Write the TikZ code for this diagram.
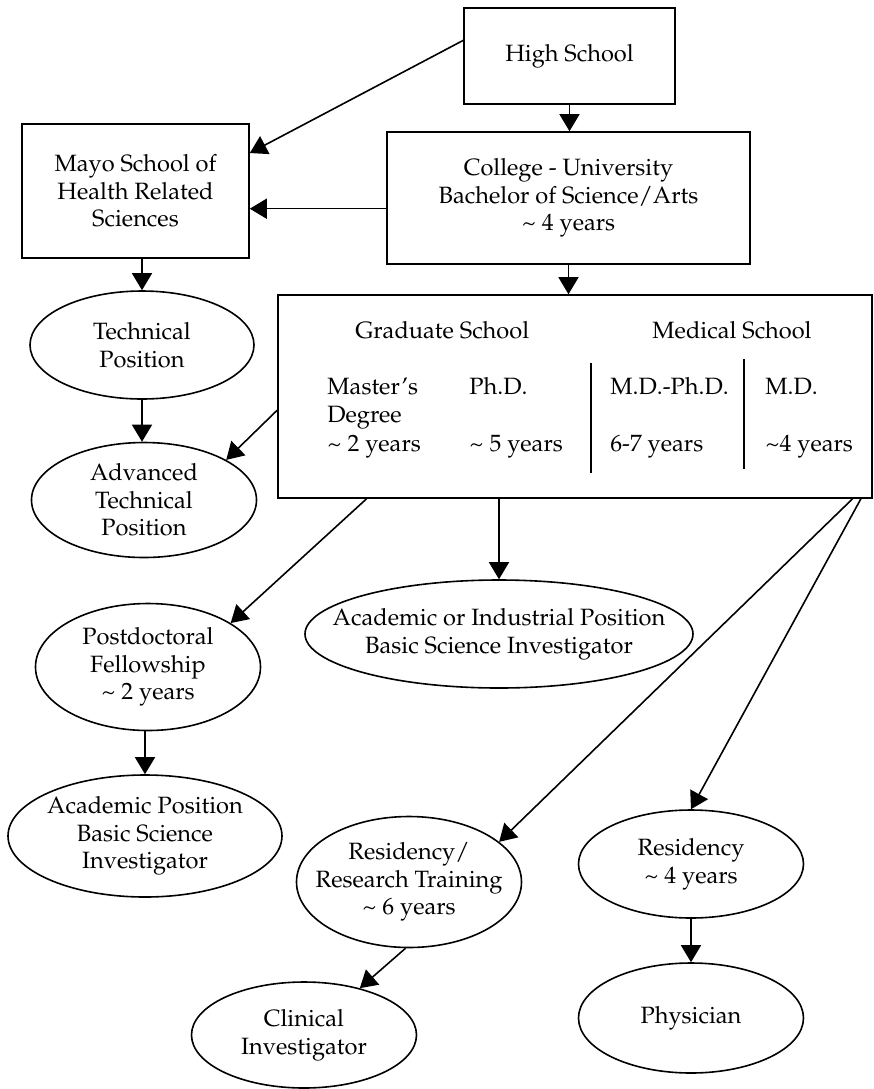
\documentclass[tikz,border=0pt]{standalone}
\usepackage[T1]{fontenc}
\usepackage{mathpazo}
\usetikzlibrary{shapes.geometric,arrows.meta,calc}
\begin{document}
\begin{tikzpicture}[x=0.5pt,y=-0.5pt]
\tikzset{
 box/.style={draw, line width=0.8pt, rectangle, inner sep=0pt},
 ell/.style={draw, line width=0.8pt, ellipse, inner sep=0pt},
 txt/.style={font=\fontsize{11.8}{13.8}\selectfont, align=center, inner sep=0pt},
 arr/.style={line width=0.8pt, -{Triangle[length=8.5pt,width=10pt]}},
 sep/.style={line width=0.8pt},
}
\useasboundingbox (0,0) rectangle (874,1089);
% boxes
\node[box, txt, minimum width=105.5pt, minimum height=48pt] (hs) at (569.5,56) {High School};
\node[box, txt, minimum width=113.5pt, minimum height=67pt] (mayo) at (135.5,191) {Mayo School of\\Health Related\\Sciences};
\node[box, txt, minimum width=181.5pt, minimum height=66pt] (coll) at (568.5,198) {College - University\\Bachelor of Science/Arts\\\textasciitilde{} 4 years};
\node[box, minimum width=297pt, minimum height=101.5pt] (big) at (575,396.5) {};
% big box contents
\node[txt, anchor=base west] (gs) at (355,338) {Graduate School};
\node[txt, anchor=base west] (ms) at (652,338) {Medical School};
\node[txt, anchor=base west] (mas1) at (327,394) {Master's};
\node[txt, anchor=base west] (mas2) at (327,422) {Degree};
\node[txt, anchor=base west] (mas3) at (327,451) {\textasciitilde{} 2 years};
\node[txt, anchor=base west] (phd1) at (469,394) {Ph.D.};
\node[txt, anchor=base west] (phd3) at (469,451) {\textasciitilde{} 5 years};
\node[txt, anchor=base west] (mdp1) at (610,394) {M.D.-Ph.D.};
\node[txt, anchor=base west] (mdp3) at (610,451) {6-7 years};
\node[txt, anchor=base west] (md1) at (765,394) {M.D.};
\node[txt, anchor=base west] (md3) at (765,451) {\textasciitilde4 years};
\draw[sep] (591,363) -- (591,473);
\draw[sep] (744,359) -- (744,469);
% ellipses
\node[ell, minimum width=112pt, minimum height=54pt, label={[txt]center:Technical\\Position}] (tech) at (142,345) {};
\node[ell, minimum width=112.5pt, minimum height=57.5pt, label={[txt]center:Advanced\\Technical\\Position}] (adv) at (144,500) {};
\node[ell, minimum width=112.5pt, minimum height=63.5pt, label={[txt]center:Postdoctoral\\Fellowship\\\textasciitilde{} 2 years}] (post) at (148,667) {};
\node[ell, minimum width=194pt, minimum height=54pt, label={[txt]center:Academic or Industrial Position\\Basic Science Investigator}] (acad) at (499,634) {};
\node[ell, minimum width=137pt, minimum height=61pt, label={[txt]center:Academic Position\\Basic Science\\Investigator}] (apos) at (145,836) {};
\node[ell, minimum width=112.5pt, minimum height=65.5pt, label={[txt]center:Residency/\\Research Training\\\textasciitilde{} 6 years}] (resres) at (409,882) {};
\node[ell, minimum width=112.5pt, minimum height=54pt, label={[txt]center:Residency\\\textasciitilde{} 4 years}] (resi) at (691,864) {};
\node[ell, minimum width=112.5pt, minimum height=53pt, label={[txt]center:Clinical\\Investigator}] (clin) at (304,1035) {};
\node[ell, minimum width=112.5pt, minimum height=55pt, label={[txt]center:Physician}] (phys) at (691,1018) {};
% connectors
\draw[arr] (hs.south) -- (hs.south |- coll.north);
\draw[arr] ($(hs.north west)!0.34!(hs.south west)$) -- ($(mayo.north east)!0.22!(mayo.south east)$);
\draw[arr] ($(coll.north west)!0.58!(coll.south west)$) coordinate (c1) -- (c1 -| mayo.east);
\draw[arr] (mayo.south -| tech.north) -- (tech.north);
\draw[arr] (coll.south) -- (coll.south |- big.north);
\draw[arr] (tech.south) -- (tech.south |- adv.north);
\draw[arr] ($(big.north west)!0.567!(big.south west)$) -- (adv.26);
\draw[arr] ($(big.south west)!0.15!(big.south east)$) -- (post.28);
\draw[arr] (big.south -| acad.north) -- (acad.north);
\draw[arr] (apos.north |- post.south) -- (apos.north);
\draw[arr] ($(big.south west)!0.966!(big.south east)$) -- (resres.24);
\draw[arr] ($(big.south west)!0.98!(big.south east)$) -- (resi.north);
\draw[arr] (resres.-93) -- (clin.40);
\draw[arr] (resi.south) -- (phys.north);
\end{tikzpicture}
\end{document}
